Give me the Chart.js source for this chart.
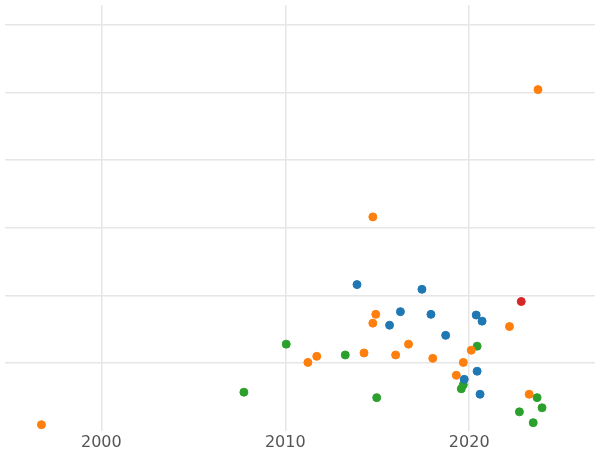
<!DOCTYPE html>
<html>
<head>
<meta charset="utf-8">
<script src="https://cdn.jsdelivr.net/npm/chart.js@4"></script>
<style>
  html, body { margin: 0; padding: 0; background: #fff; }
  #wrap { width: 600px; height: 450px; }
</style>
</head>
<body>
<div id="wrap"><canvas id="scatterChart"></canvas></div>
<script>
// data (year, value)
const blueYears   = [2013.9, 2017.43, 2016.26, 2015.67, 2017.92, 2018.72, 2020.38, 2020.7, 2020.43, 2019.73, 2020.59];
const blueValues  = [2.16, 2.09, 1.76, 1.56, 1.72, 1.41, 1.71, 1.62, 0.88, 0.76, 0.54];

const orangeYears  = [2023.74, 2014.76, 2014.92, 2014.76, 2014.28, 2011.71, 2011.23, 2016.0, 2016.7, 2018.02, 2019.3, 2019.68, 2020.11, 2022.19, 2023.26, 1996.74];
const orangeValues = [5.04, 3.16, 1.72, 1.59, 1.15, 1.10, 1.01, 1.12, 1.28, 1.07, 0.82, 1.01, 1.19, 1.54, 0.54, 0.09];

const greenYears  = [2010.05, 2013.26, 2007.75, 2014.97, 2020.43, 2019.68, 2019.57, 2023.69, 2023.96, 2022.73, 2023.48];
const greenValues = [1.28, 1.12, 0.57, 0.49, 1.25, 0.68, 0.62, 0.49, 0.34, 0.28, 0.12];

const redYears  = [2022.83];
const redValues = [1.91];

const xTicks = [2000, 2010, 2020];
const yGrid  = [1, 2, 3, 4, 5, 6];

function toPoints(xs, ys) {
    return xs.map((x, i) => ({ x: x, y: ys[i] }));
}

function series(xs, ys, color) {
    return {
        data: toPoints(xs, ys),
        backgroundColor: color,
        borderColor: color,
        pointRadius: 4,
        pointHoverRadius: 4
    };
}

const ctx = document.getElementById('scatterChart').getContext('2d');
const scatterChart = new Chart(ctx, {
    type: 'scatter',
    data: {
        datasets: [
            series(blueYears, blueValues, '#1f77b4'),
            series(orangeYears, orangeValues, '#ff7f0e'),
            series(greenYears, greenValues, '#2ca02c'),
            series(redYears, redValues, '#d62728')
        ]
    },
    options: {
        responsive: true,
        maintainAspectRatio: false,
        animation: false,
        layout: { padding: { left: -6, right: -6, top: -6, bottom: -4 } },
        plugins: { legend: { display: false }, tooltip: { enabled: false } },
        scales: {
            x: {
                type: 'linear',
                min: 1994.76,
                max: 2026.84,
                afterBuildTicks: axis => { axis.ticks = xTicks.map(v => ({ value: v })); },
                grid: { color: '#e6e6e6', lineWidth: 1.5, drawTicks: false },
                border: { display: false },
                ticks: {
                    padding: 2,
                    color: '#555',
                    font: { family: 'DejaVu Sans', size: 16 },
                    callback: v => String(v)
                }
            },
            y: {
                min: 0,
                max: 6.29,
                afterBuildTicks: axis => { axis.ticks = yGrid.map(v => ({ value: v })); },
                grid: { color: '#e6e6e6', lineWidth: 1.5, drawTicks: false },
                border: { display: false },
                ticks: { display: false }
            }
        }
    }
});
</script>
</body>
</html>
